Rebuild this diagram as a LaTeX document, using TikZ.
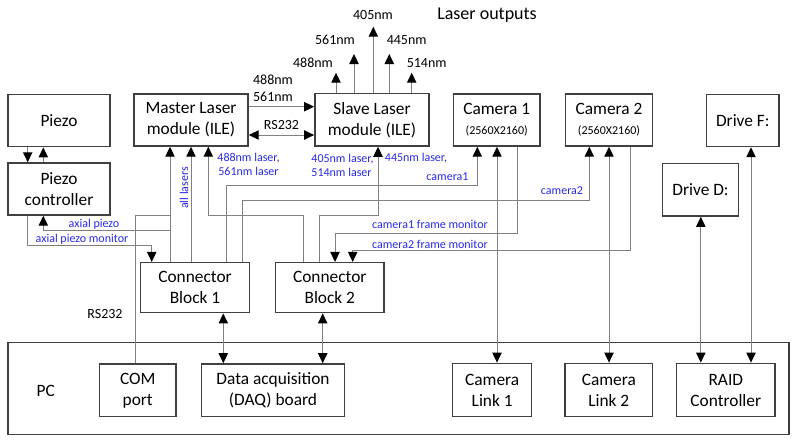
\documentclass[tikz,border=0pt]{standalone}
\usepackage{fontspec}
\setmainfont{Carlito}
\usetikzlibrary{arrows.meta}

\definecolor{boxline}{RGB}{64,64,64}
\definecolor{wireline}{RGB}{128,128,128}
\definecolor{labelblue}{RGB}{40,40,235}

\tikzset{every picture/.style={line width=0.75pt}}
\tikzset{
  block/.style={draw=boxline, line width=1.1pt, inner sep=0pt, align=center, font=\fontsize{13}{15.75}\selectfont},
  wire/.style={draw=wireline, line width=0.75pt},
  toarrow/.style={wire, -{Triangle[length=7.5pt,width=7pt,color=black]}},
  twoarrow/.style={wire, {Triangle[length=7.5pt,width=7pt,color=black]}-{Triangle[length=7.5pt,width=7pt,color=black]}},
  sig/.style={text=labelblue, font=\fontsize{9}{10.5}\selectfont, inner sep=0pt, align=center},
  note/.style={font=\fontsize{10.5}{12.5}\selectfont, inner sep=0pt},
}

\begin{document}
\begin{tikzpicture}[x=0.75pt,y=0.75pt,yscale=-1,xscale=1]
	\useasboundingbox (0,0) rectangle (798,443);

	%PC frame
	\node[block, minimum width=585.8pt, minimum height=68.7pt] (pc) at (398.5,388.5) {};
	\node[block, draw=none] (pclabel) at (45.7,390.7) {PC};

	%Blocks, top row
	\node[block, minimum width=76.5pt, minimum height=39pt] (piezo) at (59,120.7) {Piezo};
	\node[block, minimum width=76.5pt, minimum height=39pt] (piezoctl) at (59,189) {Piezo\\controller};
	\node[block, minimum width=85.5pt, minimum height=39pt] (master) at (191,120) {Master Laser\\module (ILE)};
	\node[block, minimum width=85.7pt, minimum height=39.5pt] (slave) at (372,119.7) {Slave Laser\\module (ILE)};
	\node[block, minimum width=65pt, minimum height=39pt] (cam1) at (496.7,120) {Camera 1\\[-1pt]{\fontsize{9}{11}\selectfont (2560X2160)}};
	\node[block, minimum width=65pt, minimum height=39pt] (cam2) at (609,120) {Camera 2\\[-1pt]{\fontsize{9}{11}\selectfont (2560X2160)}};
	\node[block, minimum width=54.2pt, minimum height=39pt] (drivef) at (742.8,120.5) {Drive F:};
	\node[block, minimum width=56.7pt, minimum height=39.5pt] (drived) at (700.5,189.7) {Drive D:};

	%Connector blocks
	\node[block, minimum width=81.6pt, minimum height=37.5pt] (cb1) at (195,287.7) {Connector\\Block 1};
	\node[block, minimum width=81.6pt, minimum height=37.5pt] (cb2) at (329.8,287.7) {Connector\\Block 2};

	%Inside the PC
	\node[block, minimum width=57.5pt, minimum height=39.5pt] (com) at (137.7,390.3) {COM\\port};
	\node[block, minimum width=107pt, minimum height=39.5pt] (daq) at (273,390.3) {Data acquisition\\(DAQ) board};
	\node[block, minimum width=59.3pt, minimum height=40pt] (cl1) at (492.2,390) {Camera\\Link 1};
	\node[block, minimum width=65.8pt, minimum height=40pt] (cl2) at (608.8,390) {Camera\\Link 2};
	\node[block, minimum width=73.7pt, minimum height=40pt] (raid) at (725.8,390) {RAID\\Controller};

	%Laser output ends
	\coordinate (o488) at (336,72.7);
	\coordinate (o561) at (354,54);
	\coordinate (o405) at (373.3,26.7);
	\coordinate (o445) at (389.3,54);
	\coordinate (o514) at (411.7,72.7);
	\coordinate (apj) at (170,230.7);
	\coordinate (rsj) at (170,215);

	%Piezo links
	\draw[toarrow] (piezo.south -| 27.7,0) -- (piezoctl.north -| 27.7,0);
	\draw[toarrow] (piezoctl.north -| 43.3,0) -- (piezo.south -| 43.3,0);
	\draw[toarrow] (apj) -| (piezoctl.south -| 43.3,0);
	\draw[toarrow] (piezoctl.south -| 27.7,0) |- (151.7,245) -- (cb1.north -| 151.7,0);

	%Master laser inputs
	\draw[toarrow] (cb1.north -| 170,0) -- (master.south -| 170,0);
	\draw[wire] (com.north -| 135.7,0) |- (rsj);
	\draw[toarrow] (cb1.north -| 191,0) -- (master.south -| 191,0);
	\draw[toarrow] (cb2.north -| 303,0) |- (208.3,215) -- (master.south -| 208.3,0);

	%Master to slave
	\draw[toarrow] (master.east |- 0,106.7) -- (slave.west |- 0,106.7);
	\draw[twoarrow] (master.east |- 0,135) -- (slave.west |- 0,135);
	\draw[toarrow] (cb2.north -| 319,0) |- (378,215) -- (slave.south -| 378,0);

	%Laser outputs
	\draw[toarrow] (slave.north -| o488) -- (o488);
	\draw[toarrow] (slave.north -| o561) -- (o561);
	\draw[toarrow] (slave.north -| o405) -- (o405);
	\draw[toarrow] (slave.north -| o445) -- (o445);
	\draw[toarrow] (slave.north -| o514) -- (o514);

	%Cameras
	\draw[toarrow] (cb1.north -| 226,0) |- (477.3,185.7) -- (cam1.south -| 477.3,0);
	\draw[toarrow] (cb1.north -| 242.7,0) |- (589.3,200) -- (cam2.south -| 589.3,0);
	\draw[toarrow] (cam1.south -| 517.3,0) |- (335,233) -- (cb2.north -| 335,0);
	\draw[toarrow] (cam2.south -| 630,0) |- (352.7,250) -- (cb2.north -| 352.7,0);
	\draw[twoarrow] (cam1.south -| 497,0) -- (cl1.north -| 497,0);
	\draw[twoarrow] (cam2.south -| 609,0) -- (cl2.north -| 609,0);

	%Drives
	\draw[twoarrow] (drived.south -| 700.8,0) -- (raid.north -| 700.8,0);
	\draw[twoarrow] (drivef.south -| 751,0) -- (raid.north -| 751,0);

	%DAQ
	\draw[twoarrow] (cb1.south -| 223.3,0) -- (daq.north -| 223.3,0);
	\draw[twoarrow] (cb2.south -| 322.7,0) -- (daq.north -| 322.7,0);

	% Text Node
	\node[sig] (tap) at (94,224) {axial piezo};
	\node[sig] (tapm) at (82,239) {axial piezo monitor};
	\node[sig, rotate=90] (tall) at (184,188) {all lasers};
	\node[sig] (tml) at (248.5,164) {488nm laser,\\561nm laser};
	\node[sig, align=left] (tsl) at (342.5,165) {405nm laser,\\514nm laser};
	\node[sig] (tsl2) at (416,158) {445nm laser,};
	\node[sig] (tc1) at (447.5,176.7) {camera1};
	\node[sig] (tc2) at (562,190.7) {camera2};
	\node[sig] (tf1) at (430,224) {camera1 frame monitor};
	\node[sig] (tf2) at (430,244) {camera2 frame monitor};

	% Text Node
	\node[note, align=left] (tms) at (273,88.3) {488nm\\561nm};
	\node[note] (trs1) at (281.5,125) {RS232};
	\node[note] (trs2) at (105,314) {RS232};
	\node[note] (t405) at (373,15) {405nm};
	\node[note] (t561) at (335,40) {561nm};
	\node[note] (t445) at (406.7,40) {445nm};
	\node[note] (t488) at (313,63) {488nm};
	\node[note] (t514) at (426.7,63) {514nm};
	\node[block, draw=none, font=\fontsize{13.5}{15}\selectfont] (tout) at (487,15) {Laser outputs};

\end{tikzpicture}
\end{document}
